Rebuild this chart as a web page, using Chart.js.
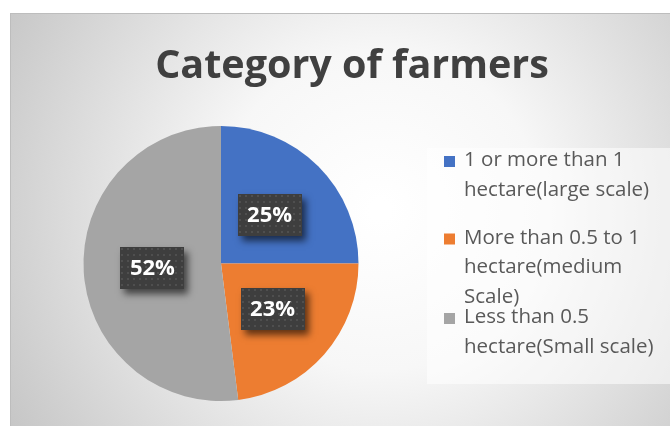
<!DOCTYPE html>
<html><head><meta charset="utf-8">
<script src="https://cdn.jsdelivr.net/npm/chart.js@4.4.1/dist/chart.umd.min.js"></script>
<style>html,body{margin:0;padding:0;background:#fff;overflow:hidden}#wrap{width:670px;height:426px;position:relative}</style>
</head><body><div id="wrap"><canvas id="c" width="670" height="426"></canvas></div>
<script>
const titleText = "Category of farmers";
const categoryLines = [
  ["1 or more than 1", "hectare(large scale)"],
  ["More than 0.5 to 1", "hectare(medium", "Scale)"],
  ["Less than 0.5", "hectare(Small scale)"]
];
const categories = categoryLines.map(l => l.join(" "));
const shares = [25, 23, 52];
const sliceColors = ["#4472C4", "#ED7D31", "#A5A5A5"];

const FONT = "'Open Sans', 'DejaVu Sans', sans-serif";

function makePattern(ctx) {
  const p = document.createElement('canvas');
  p.width = 6; p.height = 6;
  const g = p.getContext('2d');
  g.fillStyle = '#3e3e3e'; g.fillRect(0, 0, 6, 6);
  g.fillStyle = '#4f4f4f'; g.fillRect(1, 1, 2, 2);
  return ctx.createPattern(p, 'repeat');
}

const bgPlugin = {
  id: 'bg',
  beforeDraw(chart) {
    const ctx = chart.ctx;
    ctx.save();
    ctx.fillStyle = '#ffffff';
    ctx.fillRect(0, 0, 670, 426);
    const g = ctx.createRadialGradient(380, 210, 10, 380, 210, 440);
    g.addColorStop(0, '#ffffff');
    g.addColorStop(0.35, '#f7f7f7');
    g.addColorStop(1, '#c4c4c4');
    ctx.fillStyle = g;
    ctx.fillRect(10, 13, 660, 413);
    ctx.fillStyle = '#bdbdbd';
    ctx.fillRect(10, 13, 660, 1);
    ctx.fillRect(10, 13, 1, 413);
    // legend panel
    ctx.fillStyle = 'rgba(255,255,255,0.55)';
    ctx.fillRect(427, 148, 243, 236);
    ctx.restore();
  }
};

const labelPlugin = {
  id: 'sliceLabels',
  afterDatasetsDraw(chart) {
    const ctx = chart.ctx;
    const meta = chart.getDatasetMeta(0);
    const pat = makePattern(ctx);
    const data = chart.data.datasets[0].data;
    meta.data.forEach((arc, i) => {
      const pos = arc.tooltipPosition();
      const w = 64, h = 42;
      const x = Math.round(pos.x - w / 2), y = Math.round(pos.y - h / 2);
      ctx.save();
      ctx.shadowColor = 'rgba(0,0,0,0.6)';
      ctx.shadowBlur = 7;
      ctx.shadowOffsetX = 4;
      ctx.shadowOffsetY = 5;
      ctx.fillStyle = '#3e3e3e';
      ctx.fillRect(x, y, w, h);
      ctx.restore();
      ctx.save();
      ctx.fillStyle = pat;
      ctx.translate(x, y);
      ctx.fillRect(0, 0, w, h);
      ctx.restore();
      ctx.save();
      ctx.fillStyle = '#ffffff';
      ctx.font = "bold 22px " + FONT;
      ctx.textAlign = 'center';
      ctx.textBaseline = 'middle';
      ctx.fillText(data[i] + '%', pos.x, pos.y + 1);
      ctx.restore();
    });
  }
};

const textPlugin = {
  id: 'titleLegend',
  afterDraw(chart) {
    const ctx = chart.ctx;
    ctx.save();
    ctx.fillStyle = '#404040';
    ctx.font = "bold 39.5px " + FONT;
    ctx.textAlign = 'center';
    ctx.textBaseline = 'alphabetic';
    ctx.fillText(titleText, 352, 78);
    // legend
    ctx.font = "20.5px " + FONT;
    ctx.textAlign = 'left';
    const itemBase = [166, 243.5, 323];
    categoryLines.forEach((lines, i) => {
      const b = itemBase[i];
      ctx.fillStyle = sliceColors[i];
      ctx.fillRect(444, b - 10, 11, 11);
      ctx.fillStyle = '#595959';
      lines.forEach((t, j) => ctx.fillText(t, 464, b + j * 29.5));
    });
    ctx.restore();
  }
};

new Chart(document.getElementById('c'), {
  type: 'pie',
  data: {
    labels: categories,
    datasets: [{
      data: shares,
      backgroundColor: sliceColors,
      borderWidth: 0
    }]
  },
  options: {
    responsive: false,
    devicePixelRatio: 1,
    animation: false,
    layout: { padding: { left: 83.5, right: 311.5, top: 126, bottom: 25 } },
    plugins: {
      legend: { display: false },
      title: { display: false },
      tooltip: { enabled: false }
    }
  },
  plugins: [bgPlugin, labelPlugin, textPlugin]
});
</script>
</body></html>
